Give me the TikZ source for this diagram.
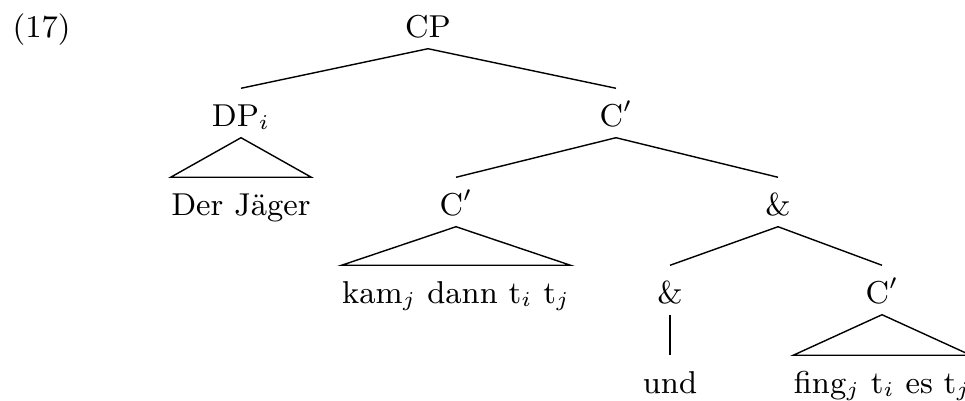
\documentclass[tikz,border=0pt]{standalone}
\usepackage{tikz}
\usetikzlibrary{positioning}
\newcommand{\sub}[1]{$_{#1}$}

\begin{document}
\begin{tikzpicture}[x=0.01cm,y=-0.01cm,font=\fontsize{9pt}{11pt}\selectfont,
    cat/.style={anchor=base,inner sep=0pt,text height=0.37cm,text depth=0.11cm}]
        \useasboundingbox (0,0) rectangle (965,400);
        \node[anchor=base west,inner sep=0pt] (ex) at (12,37) {(17)};
        % categories and words, row by row
        \node[cat] (cp) at (428,37) {CP};
        \node[cat] (dp) at (241,126) {DP\sub{i}};
        \node[cat] (cbar) at (616,126) {C$'$};
        \node[cat] (jaeger) at (241,215) {Der Jäger};
        \node[cat] (cbarl) at (456,215) {C$'$};
        \node[cat] (conj) at (778,215) {\&};
        \node[cat] (kam) at (456,303) {kam\sub{j} dann t\sub{i} t\sub{j}};
        \node[cat] (und) at (670,303) {\&};
        \node[cat] (cbarr) at (882,303) {C$'$};
        \node[cat] (undw) at (670,393) {und};
        \node[cat] (fing) at (882,393) {fing\sub{j} t\sub{i} es t\sub{j}};
        % branches
        \draw (cp.south) -- (dp.north);
        \draw (cp.south) -- (cbar.north);
        \draw (cbar.south) -- (cbarl.north);
        \draw (cbar.south) -- (conj.north);
        \draw (conj.south) -- (und.north);
        \draw (conj.south) -- (cbarr.north);
        \draw (und.south) -- (undw.north);
        % triangles over unanalysed material
        \draw (dp.south) -- (jaeger.north west) -- (jaeger.north east) -- cycle;
        \draw (cbarl.south) -- (kam.north west) -- (kam.north east) -- cycle;
        \draw (cbarr.south) -- (fing.north west) -- (fing.north east) -- cycle;
\end{tikzpicture}
\end{document}
